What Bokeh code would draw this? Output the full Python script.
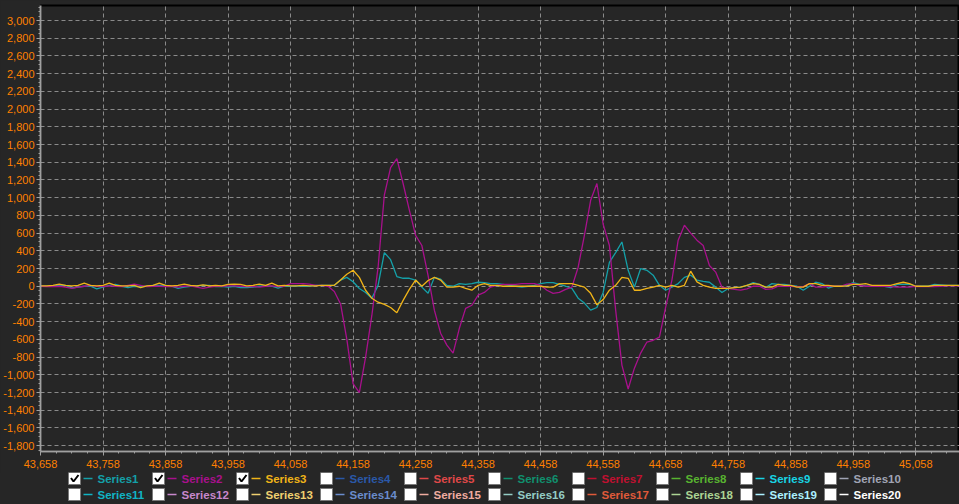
from bokeh.plotting import figure
from bokeh.layouts import column
from bokeh.models import FixedTicker, NumeralTickFormatter, Range1d, ColumnDataSource
from bokeh.core.properties import value
from bokeh.embed import file_html
from bokeh.resources import INLINE

# ---------------- data ----------------
x_start = 43658
x_step = 10

series1 = [0, 0, 0, 10, 10, -20, -10, 0, 0, -30,
           -10, 10, 20, 0, -15, 0, -5, 0, 10, 10,
           10, 0, -25, -10, 0, 5, 10, 10, -5, 0,
           -10, 0, -15, -15, -10, 0, 5, 0, -20, 0,
           0, 5, 0, 0, 10, 10, 10, 10, 70, 100,
           50, -25, -70, -135, 10, 380, 300, 110, 90, 90,
           70, -10, -80, 100, 80, 10, 0, 30, 20, 30,
           45, 40, 30, 30, 20, 10, 0, -10, 0, 10,
           30, 40, 40, 20, 0, -25, -135, -190, -270, -240,
           -70, 270, 380, 500, 180, -10, 200, 180, 125, 10,
           -45, -10, 30, 100, 125, 70, 55, 45, -10, -70,
           -25, -15, -10, 10, 40, 20, -15, 30, 20, 20,
           10, 0, -45, 0, 45, 30, -20, 0, 0, 10,
           40, 20, 0, 0, 5, 0, -15, 20, 20, 25,
           0, 0, 0, 20, 15, 10, 10, 10]

series2 = [0, -5, -5, 0, -10, -25, -10, 0, 10, 0,
           -5, 5, 0, -5, 10, 25, 10, -5, 0, 0,
           -5, 0, -10, 0, 5, -10, -25, -10, 0, 0,
           5, 5, 0, -5, 0, -10, 0, 5, -5, 0,
           30, 30, 30, 25, 10, 10, 0, -60, -200, -600,
           -1100, -1200, -800, -330, 215, 1030, 1340, 1440, 1160, 860,
           575, 460, 120, -270, -530, -665, -755, -475, -250, -215,
           -100, -70, -10, 10, 20, 20, 20, 30, 30, 30,
           10, -45, -80, -70, -35, -10, 215, 575, 970, 1160,
           700, 460, -270, -890, -1160, -925, -755, -630, -610, -575,
           -235, 70, 520, 690, 600, 520, 460, 235, 160, -10,
           -25, -35, -45, -30, 0, 0, -35, -30, 0, 0,
           0, -5, -5, 30, -10, -10, 0, 0, 0, 25,
           30, 10, 0, 0, 0, 0, -5, -10, -10, -10,
           0, -5, -5, -5, 0, 5, 5, 5]

series3 = [5, 5, 10, 25, 10, 5, 10, 35, 10, 5,
           10, 35, 10, 5, 5, 10, -15, 5, 10, 35,
           10, 5, 10, 25, 10, 5, 15, 5, 10, 5,
           20, 25, 20, 5, 10, 25, 10, 35, 5, 10,
           5, 5, 10, 5, 5, 10, 10, 10, 70, 135,
           180, 100, -45, -135, -180, -205, -240, -300, -160, -35,
           70, 0, 65, 100, 70, -10, -10, 0, -25, -45,
           10, 30, 10, 10, 0, 0, 0, 0, 0, 0,
           0, -10, -10, 30, 30, 30, 10, -10, -80, -210,
           -150, -45, 10, 100, 90, -45, -45, -25, -10, 10,
           -10, 10, -10, 10, 170, 50, 10, -10, -25, -25,
           -25, -15, -10, 10, 30, 20, -10, -10, 20, 10,
           10, -10, -10, 30, 30, 10, 10, 0, 0, 5,
           20, 20, 30, 10, 10, 10, 10, 30, 45, 30,
           0, 0, 0, 10, 10, 10, 10, 10]

x_values = [x_start + x_step * i for i in range(len(series1))]

x_ticks = [43658, 43758, 43858, 43958, 44058, 44158, 44258, 44358,
           44458, 44558, 44658, 44758, 44858, 44958, 45058]
y_ticks = [-1800, -1600, -1400, -1200, -1000, -800, -600, -400, -200, 0,
           200, 400, 600, 800, 1000, 1200, 1400, 1600, 1800, 2000,
           2200, 2400, 2600, 2800, 3000]

legend_names = ["Series1", "Series2", "Series3", "Series4", "Series5",
                "Series6", "Series7", "Series8", "Series9", "Series10",
                "Series11", "Series12", "Series13", "Series14", "Series15",
                "Series16", "Series17", "Series18", "Series19", "Series20"]
legend_colors = ["#14a0a8", "#a8108c", "#f0b418", "#2a58a8", "#e04848",
                 "#10906e", "#c01030", "#58b430", "#18d4e4", "#a0a4b4",
                 "#10b4c4", "#c888cc", "#f0d070", "#6a8ccc", "#f0aca0",
                 "#94ccc4", "#e05a3a", "#acd494", "#acf0ff", "#ffffff"]
legend_checked = [True, True, True] + [False] * 17

series_values = [series1, series2, series3]

# ---------------- styling ----------------
BG = "#262626"
AXIS = "#a0a0a0"
TICKLBL = "#ff8000"
GRID = "#8a8a8a"

p = figure(width=959, height=472, output_backend="svg", toolbar_location=None,
           x_range=Range1d(43658, 45128), y_range=Range1d(-1866, 3170),
           min_border_left=40, min_border_right=0, min_border_top=5,
           min_border_bottom=21)
p.background_fill_color = BG
p.border_fill_color = BG
p.outline_line_color = "#000000"
p.outline_line_width = 2

p.xaxis.ticker = FixedTicker(ticks=x_ticks,
                             minor_ticks=list(range(43658, 45130, 25)))
p.yaxis.ticker = FixedTicker(ticks=y_ticks,
                             minor_ticks=list(range(-1850, 3170, 50)))
for ax in (p.xaxis, p.yaxis):
    ax.formatter = NumeralTickFormatter(format="0,0")
    ax.axis_line_color = AXIS
    ax.axis_line_width = 2
    ax.major_tick_line_color = AXIS
    ax.minor_tick_line_color = AXIS
    ax.major_tick_in = 0
    ax.major_tick_out = 4
    ax.minor_tick_in = 0
    ax.minor_tick_out = 2
    ax.major_label_text_color = TICKLBL
    ax.major_label_text_font = "Liberation Sans"
    ax.major_label_text_font_size = "11px"
p.yaxis.major_label_standoff = 2
p.xaxis.major_label_standoff = 4

p.grid.grid_line_color = GRID
p.grid.grid_line_dash = "4 3"
p.grid.grid_line_width = 1

for vals, col in zip(series_values, legend_colors[:3]):
    p.line(x_values, vals, line_color=col, line_width=1.3)

# ---------------- legend (separate strip, pixel-like coordinates) ----------------
lg = figure(width=959, height=32, output_backend="svg", toolbar_location=None,
            x_range=Range1d(0, 959), y_range=Range1d(0, 32),
            x_axis_type=None, y_axis_type=None, frame_align=False,
            min_border_left=0, min_border_right=0,
            min_border_top=0, min_border_bottom=0)
lg.background_fill_color = BG
lg.border_fill_color = BG
lg.outline_line_color = None
lg.grid.visible = False

bx, by, lx0, lx1, tx, check_xs, check_ys = [], [], [], [], [], [], []
for i, name in enumerate(legend_names):
    col = i % 10
    row = i // 10
    left = 68 + 84 * col
    cy = 26 - 16 * row
    bx.append(left + 6)
    by.append(cy)
    lx0.append(left + 15)
    lx1.append(left + 24)
    tx.append(left + 29)
    if legend_checked[i]:
        check_xs.append([left + 2.5, left + 5, left + 10])
        check_ys.append([cy + 0.5, cy - 3, cy + 3.5])

lg.rect(bx, by, width=12, height=12, fill_color="#ffffff",
        line_color="#7a7a7a", line_width=1)
lg.multi_line(check_xs, check_ys, line_color="#000000", line_width=2)
lg.segment(x0=lx0, y0=by, x1=lx1, y1=by, line_color=legend_colors, line_width=1.5)
src = ColumnDataSource(dict(x=tx, y=by, t=legend_names, c=legend_colors))
lg.text(x="x", y="y", text="t", text_color="c", source=src,
        text_font=value("Liberation Sans"), text_font_style="bold",
        text_font_size="11.5px", text_baseline="middle", text_align="left")

layout = column(p, lg, spacing=0)
layout.styles = {"background-color": BG}
html = file_html(layout, INLINE)
html = html.replace("<head>",
                    "<head><style>html,body{background:#262626;margin:0;padding:0;}</style>", 1)
open("out.html", "w").write(html)
